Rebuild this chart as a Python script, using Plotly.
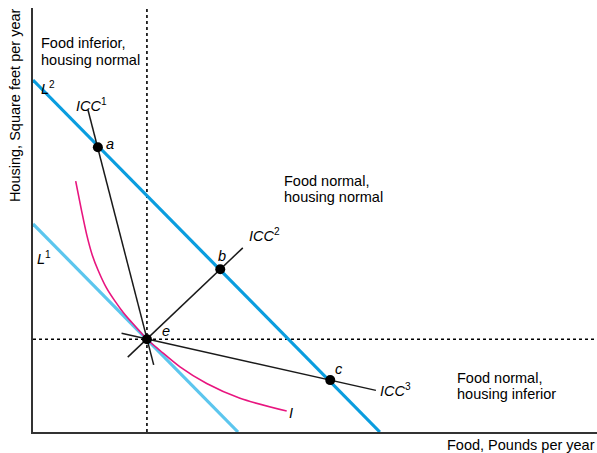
import plotly.graph_objects as go

# Budget lines (Food, Housing)
L1_x = [0, 36.35]
L1_y = [36.9, 0]
L2_x = [0, 61.5]
L2_y = [62.4, 0]

# Income-consumption curves
ICC1_x = [9.75, 21.4]
ICC1_y = [57.1, 11.9]
ICC2_x = [16.8, 37.2]
ICC2_y = [13.27, 32.65]
ICC3_x = [15.7, 60.8]
ICC3_y = [17.5, 7.38]

# Indifference curve I
I_x = [7.57, 8.0, 8.6, 9.52, 10.5, 11.58, 13.0, 14.54, 16.0, 17.5, 20.2, 22.52, 26.06, 30.80, 36.70, 44.98]
I_y = [44.5, 42.3, 39.3, 35.0, 31.4, 28.6, 25.6, 23.2, 21.2, 19.45, 16.45, 14.45, 11.55, 8.6, 5.98, 3.72]

# Optimal bundles
pt_labels = ["a", "b", "c", "e"]
pt_x = [11.5, 33.2, 52.7, 20.2]
pt_y = [50.5, 28.85, 9.2, 16.45]

X_MAX = 100
Y_MAX = 75.18

FONT = "Liberation Sans, Arial, Helvetica, sans-serif"
FS = 14.5

fig = go.Figure()

# dotted guide lines through e
fig.add_trace(go.Scatter(x=[0, X_MAX], y=[pt_y[3], pt_y[3]], mode="lines",
                         line=dict(color="black", width=1.6, dash="dot"), hoverinfo="skip"))
fig.add_trace(go.Scatter(x=[pt_x[3], pt_x[3]], y=[0, Y_MAX], mode="lines",
                         line=dict(color="black", width=1.6, dash="dot"), hoverinfo="skip"))

# budget lines
fig.add_trace(go.Scatter(x=L1_x, y=L1_y, mode="lines", line=dict(color="#5cc6ee", width=3.2)))
fig.add_trace(go.Scatter(x=L2_x, y=L2_y, mode="lines", line=dict(color="#0a9ddf", width=3.2)))

# indifference curve
fig.add_trace(go.Scatter(x=I_x, y=I_y, mode="lines",
                         line=dict(color="#e8157f", width=1.6, shape="spline", smoothing=0.8)))

# ICC lines
for xs, ys in [(ICC1_x, ICC1_y), (ICC2_x, ICC2_y), (ICC3_x, ICC3_y)]:
    fig.add_trace(go.Scatter(x=xs, y=ys, mode="lines", line=dict(color="#1a1a1a", width=1.5)))

# points
fig.add_trace(go.Scatter(x=pt_x, y=pt_y, mode="markers",
                         marker=dict(color="black", size=10)))

def ann(text, x, y, xanchor="center", xref="x", yref="y", angle=0):
    fig.add_annotation(text=text, x=x, y=y, xref=xref, yref=yref, showarrow=False,
                       xanchor=xanchor, yanchor="middle", textangle=angle,
                       font=dict(family=FONT, size=FS, color="black"))

# curve labels
ann("<i>L</i><sup>2</sup>", 2.6, 61.0)
ann("<i>L</i><sup>1</sup>", 1.9, 30.9)
ann("<i>ICC</i><sup>1</sup>", 10.46, 57.9)
ann("<i>ICC</i><sup>2</sup>", 41.13, 35.0)
ann("<i>ICC</i><sup>3</sup>", 64.36, 7.4)
ann("<i>I</i>", 45.74, 3.37)
ann("<i>a</i>", 13.65, 51.06)
ann("<i>b</i>", 33.51, 31.2)
ann("<i>c</i>", 54.26, 11.17)
ann("<i>e</i>", 23.58, 17.91)

# region labels
ann("Food inferior,", 1.06, 68.97, xanchor="left")
ann("housing normal", 1.06, 66.0, xanchor="left")
ann("Food normal,", 44.15, 44.5, xanchor="left")
ann("housing normal", 44.15, 41.6, xanchor="left")
ann("Food normal,", 74.82, 9.57, xanchor="left")
ann("housing inferior", 74.82, 6.7, xanchor="left")

# axis titles
ann("Food, Pounds per year", 1.0, -0.0307, xanchor="right", xref="paper", yref="paper")
ann("Housing, Square feet per year", -0.0319, 0.771, xref="paper", yref="paper", angle=-90)

fig.update_layout(
    width=597, height=453,
    margin=dict(l=33, r=0, t=8, b=21),
    plot_bgcolor="white", paper_bgcolor="white",
    showlegend=False,
    xaxis=dict(range=[0, X_MAX], showgrid=False, zeroline=False, showticklabels=False,
               ticks="", showline=True, linecolor="#333333", linewidth=1.5, fixedrange=True),
    yaxis=dict(range=[0, Y_MAX], showgrid=False, zeroline=False, showticklabels=False,
               ticks="", showline=True, linecolor="#333333", linewidth=1.5, fixedrange=True),
)

fig.write_html("out.html", config={"displayModeBar": False},
               post_script="document.body.style.margin='0';document.body.style.overflow='hidden';")
